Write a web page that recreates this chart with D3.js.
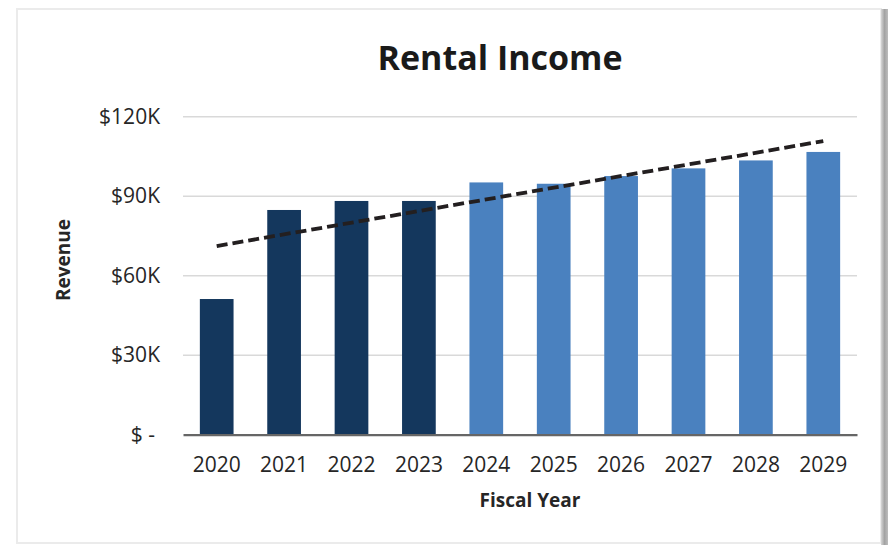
<!DOCTYPE html>
<html>
<head>
<meta charset="utf-8">
<script src="https://cdn.jsdelivr.net/npm/d3@7"></script>
<style>
  body { margin: 0; background: #ffffff; }
  svg { display: block; font-family: "Open Sans", sans-serif; }
</style>
</head>
<body>
<svg id="chart" width="888" height="545"></svg>
<script>
// Chart data
const years = ["2020", "2021", "2022", "2023", "2024", "2025", "2026", "2027", "2028", "2029"];
const revenue = [51200, 84800, 88200, 88200, 95200, 94700, 97600, 100500, 103500, 106700];
const kind = ["actual", "actual", "actual", "actual", "forecast", "forecast", "forecast", "forecast", "forecast", "forecast"];
const yTicks = [0, 30000, 60000, 90000, 120000];
// Trend line end points (as drawn)
const trendYears = ["2020", "2029"];
const trendValues = [71200, 110800];

const colors = { actual: "#14375d", forecast: "#4a81bf" };

const svg = d3.select("#chart");
const plot = { left: 183, right: 857, top: 116.7, bottom: 434.7 };

// Frame around the chart area
svg.append("rect")
  .attr("x", 17).attr("y", 9)
  .attr("width", 864).attr("height", 534)
  .attr("fill", "#ffffff")
  .attr("stroke", "#ebebeb")
  .attr("stroke-width", 2);

// Shadow strip on the right edge
const grad = svg.append("defs").append("linearGradient")
  .attr("id", "edge").attr("x1", "0").attr("x2", "1");
grad.append("stop").attr("offset", "0").attr("stop-color", "#d6d6d6");
grad.append("stop").attr("offset", "0.5").attr("stop-color", "#a3a3a3");
grad.append("stop").attr("offset", "1").attr("stop-color", "#bdbdbd");
svg.append("rect")
  .attr("x", 881).attr("y", 9)
  .attr("width", 7).attr("height", 536)
  .attr("fill", "url(#edge)");

// Scales
const x = d3.scaleBand()
  .domain(years)
  .range([plot.left, plot.right])
  .paddingInner(0.5)
  .paddingOuter(0.25);

const y = d3.scaleLinear()
  .domain([0, 120000])
  .range([plot.bottom, plot.top]);

// Gridlines
svg.append("g")
  .selectAll("line")
  .data(yTicks.slice(1))
  .join("line")
  .attr("x1", plot.left)
  .attr("x2", plot.right)
  .attr("y1", (d) => y(d))
  .attr("y2", (d) => y(d))
  .attr("stroke", "#d9d9d9")
  .attr("stroke-width", 1.5);

// Y axis labels
const yAxis = svg.append("g")
  .attr("transform", `translate(${plot.left - 23}, 0)`)
  .call(
    d3.axisLeft(y)
      .tickValues(yTicks)
      .tickSize(0)
      .tickPadding(0)
      .tickFormat((d) => (d === 0 ? "$ -" : `$${d / 1000}K`))
  );
yAxis.select(".domain").remove();
yAxis.selectAll("text")
  .attr("font-size", "21px")
  .attr("fill", "#262626")
  .attr("font-family", "Open Sans, sans-serif")
  .attr("dx", (d) => (d === 0 ? -5 : 0));

// Bars
svg.append("g")
  .selectAll("rect")
  .data(years.map((yr, i) => ({ year: yr, value: revenue[i], kind: kind[i] })))
  .join("rect")
  .attr("x", (d) => x(d.year))
  .attr("y", (d) => y(d.value))
  .attr("width", x.bandwidth())
  .attr("height", (d) => y(0) - y(d.value))
  .attr("fill", (d) => colors[d.kind]);

// X axis
const xAxis = svg.append("g")
  .attr("transform", `translate(0, ${plot.bottom})`)
  .call(d3.axisBottom(x).tickSize(0).tickPadding(22));
xAxis.select(".domain")
  .attr("stroke", "#666666")
  .attr("stroke-width", 2.2);
xAxis.selectAll("text")
  .attr("font-size", "21px")
  .attr("fill", "#262626")
  .attr("font-family", "Open Sans, sans-serif");

// Trend line
const trend = trendYears.map((yr, i) => [x(yr) + x.bandwidth() / 2, y(trendValues[i])]);
svg.append("path")
  .attr("d", d3.line()(trend))
  .attr("fill", "none")
  .attr("stroke", "#231f20")
  .attr("stroke-width", 3.8)
  .attr("stroke-dasharray", "11 5");

// Title
svg.append("text")
  .attr("x", 500)
  .attr("y", 70)
  .attr("text-anchor", "middle")
  .attr("font-size", "34px")
  .attr("font-weight", "bold")
  .attr("fill", "#1a1a1a")
  .text("Rental Income");

// Axis titles
svg.append("text")
  .attr("transform", `translate(70, 260) rotate(-90)`)
  .attr("text-anchor", "middle")
  .attr("font-size", "19px")
  .attr("font-weight", "bold")
  .attr("fill", "#262626")
  .text("Revenue");

svg.append("text")
  .attr("x", 530)
  .attr("y", 507)
  .attr("text-anchor", "middle")
  .attr("font-size", "19px")
  .attr("font-weight", "bold")
  .attr("fill", "#262626")
  .text("Fiscal Year");
</script>
</body>
</html>
